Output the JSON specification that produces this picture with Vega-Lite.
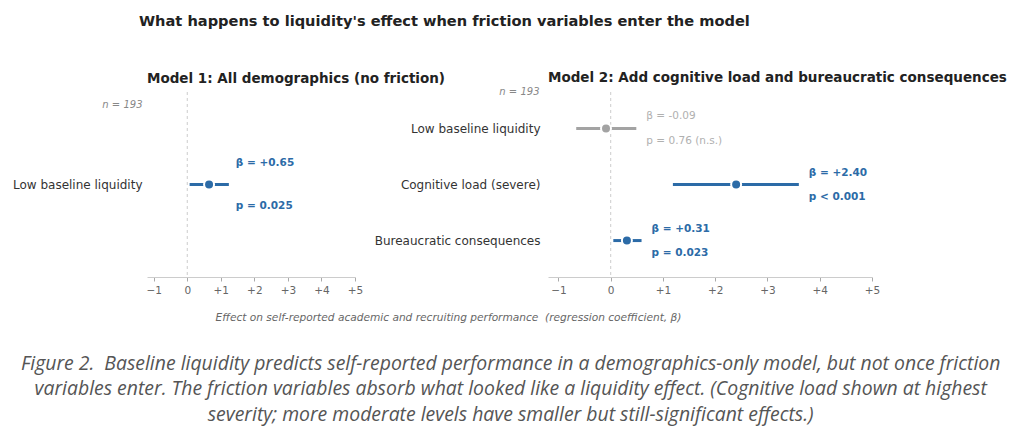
{
  "$schema": "https://vega.github.io/schema/vega-lite/v6.json",
  "background": "white",
  "padding": {"left": 12, "top": 13, "right": 12, "bottom": 10},
  "config": {
    "font": "DejaVu Sans",
    "view": {"stroke": null},
    "axis": {"grid": false},
    "axisX": {"labelOverlap": false, "labelFlush": false, "labelBound": false}
  },
  "datasets": {
    "m1": [
      {"term": "Low baseline liquidity", "beta": 0.65, "lo": 0.07, "hi": 1.24, "p_text": "p = 0.025", "significant": "yes"}
    ],
    "m2": [
      {"term": "Low baseline liquidity", "beta": -0.09, "lo": -0.66, "hi": 0.49, "p_text": "p = 0.76 (n.s.)", "significant": "no"},
      {"term": "Cognitive load (severe)", "beta": 2.40, "lo": 1.19, "hi": 3.60, "p_text": "p < 0.001", "significant": "yes"},
      {"term": "Bureaucratic consequences", "beta": 0.31, "lo": 0.05, "hi": 0.59, "p_text": "p = 0.023", "significant": "yes"}
    ],
    "zero": [{"x": 0}]
  },
  "title": {
    "text": [
      "Figure 2. \u00a0Baseline liquidity predicts self-reported performance in a demographics-only model, but not once friction",
      "variables enter. The friction variables absorb what looked like a liquidity effect. (Cognitive load shown at highest",
      "severity; more moderate levels have smaller but still-significant effects.)"
    ],
    "orient": "bottom",
    "anchor": "middle",
    "dx": 1,
    "font": "Open Sans",
    "fontStyle": "italic",
    "fontWeight": "normal",
    "fontSize": 19.4,
    "lineHeight": 25.5,
    "color": "#555555",
    "offset": 32
  },
  "vconcat": [
    {
      "title": {
        "text": "What happens to liquidity's effect when friction variables enter the model",
        "anchor": "start",
        "frame": "group",
        "dx": -8,
        "fontSize": 14.6,
        "fontWeight": "bold",
        "color": "#222222",
        "offset": 42
      },
      "bounds": "flush",
      "spacing": 193,
      "hconcat": [
        {
          "width": 208,
          "height": 185,
          "title": {"text": "Model 1: All demographics (no friction)", "anchor": "start", "frame": "group", "fontSize": 13.5, "fontWeight": "bold", "color": "#222222", "offset": 6},
          "layer": [
            {
              "data": {"name": "zero"},
              "mark": {"type": "rule", "color": "#cccccc", "strokeDash": [3, 3], "strokeWidth": 1},
              "encoding": {
                "x": {
                  "field": "x", "type": "quantitative",
                  "scale": {"domain": [-1.2, 5], "nice": false, "zero": false},
                  "axis": {
                    "values": [-1, 0, 1, 2, 3, 4, 5],
                    "tickCount": 10,
                    "labelExpr": "datum.value > 0 ? '+' + datum.value : (datum.value == 0 ? '0' : '\u2212' + abs(datum.value))",
                    "labelOverlap": false, "labelFlush": false,
                    "domainColor": "#cccccc", "tickColor": "#aaaaaa", "tickSize": 4,
                    "labelColor": "#666666", "labelFontSize": 10.5, "labelPadding": 4,
                    "title": "Effect on self-reported academic and recruiting performance \u00a0(regression coefficient, \u03b2)",
                    "titleFontStyle": "italic", "titleFontWeight": "normal", "titleFontSize": 10.6,
                    "titleColor": "#666666", "titleX": 301, "titleY": 40, "titleAlign": "center", "titleBaseline": "middle"
                  }
                }
              }
            },
            {
              "data": {"name": "m1"},
              "mark": {"type": "rule", "strokeWidth": 3},
              "encoding": {
                "x": {"field": "lo", "type": "quantitative", "scale": {"domain": [-1.2, 5], "nice": false, "zero": false}},
                "x2": {"field": "hi"},
                "y": {
                  "field": "term", "type": "nominal", "sort": null,
                  "scale": {"type": "point", "padding": 0.65},
                  "axis": {
                    "domain": false, "ticks": false, "labelFontSize": 12, "labelColor": "#333333", "labelPadding": 5,
                    "title": "n = 193", "titleAngle": 0, "titleAlign": "right", "titleBaseline": "middle",
                    "titleX": -5, "titleY": 12, "titleFontStyle": "italic", "titleFontWeight": "normal",
                    "titleFontSize": 10, "titleColor": "#888888"
                  }
                },
                "color": {"field": "significant", "type": "nominal", "scale": {"domain": ["yes", "no"], "range": ["#2c6ba7", "#a3a3a3"]}, "legend": null}
              }
            },
            {
              "data": {"name": "m1"},
              "mark": {"type": "circle", "size": 100, "opacity": 1, "stroke": "white", "strokeWidth": 2},
              "encoding": {
                "x": {"field": "beta", "type": "quantitative", "scale": {"domain": [-1.2, 5], "nice": false, "zero": false}},
                "y": {"field": "term", "type": "nominal", "sort": null, "scale": {"type": "point", "padding": 0.65}},
                "color": {"field": "significant", "type": "nominal", "scale": {"domain": ["yes", "no"], "range": ["#2c6ba7", "#a3a3a3"]}, "legend": null}
              }
            },
            {
              "data": {"name": "m1"},
              "transform": [{"calculate": "'\u03b2 = ' + (datum.beta > 0 ? '+' : '') + format(datum.beta, '.2f')", "as": "beta_text"}],
              "mark": {"type": "text", "align": "left", "baseline": "middle", "dx": 7, "dy": -22, "fontSize": 10.5, "fontWeight": "bold"},
              "encoding": {
                "x": {"field": "hi", "type": "quantitative", "scale": {"domain": [-1.2, 5], "nice": false, "zero": false}},
                "y": {"field": "term", "type": "nominal", "sort": null, "scale": {"type": "point", "padding": 0.65}},
                "text": {"field": "beta_text"},
                "color": {"field": "significant", "type": "nominal", "scale": {"domain": ["yes", "no"], "range": ["#2c6ba7", "#a3a3a3"]}, "legend": null}
              }
            },
            {
              "data": {"name": "m1"},
              "mark": {"type": "text", "align": "left", "baseline": "middle", "dx": 7, "dy": 21, "fontSize": 10.5, "fontWeight": "bold"},
              "encoding": {
                "x": {"field": "hi", "type": "quantitative", "scale": {"domain": [-1.2, 5], "nice": false, "zero": false}},
                "y": {"field": "term", "type": "nominal", "sort": null, "scale": {"type": "point", "padding": 0.65}},
                "text": {"field": "p_text"},
                "color": {"field": "significant", "type": "nominal", "scale": {"domain": ["yes", "no"], "range": ["#2c6ba7", "#a3a3a3"]}, "legend": null}
              }
            }
          ]
        },
        {
          "width": 324,
          "height": 185,
          "title": {"text": "Model 2: Add cognitive load and bureaucratic consequences", "anchor": "start", "frame": "group", "fontSize": 13.5, "fontWeight": "bold", "color": "#222222", "offset": 2},
          "layer": [
            {
              "data": {"name": "zero"},
              "mark": {"type": "rule", "color": "#cccccc", "strokeDash": [3, 3], "strokeWidth": 1},
              "encoding": {
                "x": {
                  "field": "x", "type": "quantitative",
                  "scale": {"domain": [-1.2, 5], "nice": false, "zero": false},
                  "axis": {
                    "values": [-1, 0, 1, 2, 3, 4, 5],
                    "tickCount": 10,
                    "labelExpr": "datum.value > 0 ? '+' + datum.value : (datum.value == 0 ? '0' : '\u2212' + abs(datum.value))",
                    "labelOverlap": false, "labelFlush": false,
                    "domainColor": "#cccccc", "tickColor": "#aaaaaa", "tickSize": 4,
                    "labelColor": "#666666", "labelFontSize": 10.5, "labelPadding": 4,
                    "title": ""
                  }
                }
              }
            },
            {
              "data": {"name": "m2"},
              "mark": {"type": "rule", "strokeWidth": 3},
              "encoding": {
                "x": {"field": "lo", "type": "quantitative", "scale": {"domain": [-1.2, 5], "nice": false, "zero": false}},
                "x2": {"field": "hi"},
                "y": {
                  "field": "term", "type": "nominal", "sort": null,
                  "scale": {"type": "point", "padding": 0.65},
                  "axis": {
                    "domain": false, "ticks": false, "labelFontSize": 12, "labelColor": "#333333", "labelPadding": 8,
                    "title": "n = 193", "titleAngle": 0, "titleAlign": "right", "titleBaseline": "middle",
                    "titleX": -9, "titleY": -1, "titleFontStyle": "italic", "titleFontWeight": "normal",
                    "titleFontSize": 10, "titleColor": "#888888"
                  }
                },
                "color": {"field": "significant", "type": "nominal", "scale": {"domain": ["yes", "no"], "range": ["#2c6ba7", "#a3a3a3"]}, "legend": null}
              }
            },
            {
              "data": {"name": "m2"},
              "mark": {"type": "circle", "size": 100, "opacity": 1, "stroke": "white", "strokeWidth": 2},
              "encoding": {
                "x": {"field": "beta", "type": "quantitative", "scale": {"domain": [-1.2, 5], "nice": false, "zero": false}},
                "y": {"field": "term", "type": "nominal", "sort": null, "scale": {"type": "point", "padding": 0.65}},
                "color": {"field": "significant", "type": "nominal", "scale": {"domain": ["yes", "no"], "range": ["#2c6ba7", "#a3a3a3"]}, "legend": null}
              }
            },
            {
              "data": {"name": "m2"},
              "transform": [
                {"filter": "datum.significant == 'yes'"},
                {"calculate": "'\u03b2 = ' + (datum.beta > 0 ? '+' : '') + format(datum.beta, '.2f')", "as": "beta_text"}
              ],
              "mark": {"type": "text", "align": "left", "baseline": "middle", "dx": 10, "dy": -12, "fontSize": 10.5, "fontWeight": "bold", "color": "#2c6ba7"},
              "encoding": {
                "x": {"field": "hi", "type": "quantitative", "scale": {"domain": [-1.2, 5], "nice": false, "zero": false}},
                "y": {"field": "term", "type": "nominal", "sort": null, "scale": {"type": "point", "padding": 0.65}},
                "text": {"field": "beta_text"}
              }
            },
            {
              "data": {"name": "m2"},
              "transform": [{"filter": "datum.significant == 'yes'"}],
              "mark": {"type": "text", "align": "left", "baseline": "middle", "dx": 10, "dy": 12, "fontSize": 10.5, "fontWeight": "bold", "color": "#2c6ba7"},
              "encoding": {
                "x": {"field": "hi", "type": "quantitative", "scale": {"domain": [-1.2, 5], "nice": false, "zero": false}},
                "y": {"field": "term", "type": "nominal", "sort": null, "scale": {"type": "point", "padding": 0.65}},
                "text": {"field": "p_text"}
              }
            },
            {
              "data": {"name": "m2"},
              "transform": [
                {"filter": "datum.significant == 'no'"},
                {"calculate": "'\u03b2 = ' + replace(format(datum.beta, '.2f'), '\u2212', '-')", "as": "beta_text"}
              ],
              "mark": {"type": "text", "align": "left", "baseline": "middle", "dx": 10, "dy": -12, "fontSize": 10.5, "fontWeight": "normal", "color": "#b0b0b0"},
              "encoding": {
                "x": {"field": "hi", "type": "quantitative", "scale": {"domain": [-1.2, 5], "nice": false, "zero": false}},
                "y": {"field": "term", "type": "nominal", "sort": null, "scale": {"type": "point", "padding": 0.65}},
                "text": {"field": "beta_text"}
              }
            },
            {
              "data": {"name": "m2"},
              "transform": [{"filter": "datum.significant == 'no'"}],
              "mark": {"type": "text", "align": "left", "baseline": "middle", "dx": 10, "dy": 13, "fontSize": 10.5, "fontWeight": "normal", "color": "#b0b0b0"},
              "encoding": {
                "x": {"field": "hi", "type": "quantitative", "scale": {"domain": [-1.2, 5], "nice": false, "zero": false}},
                "y": {"field": "term", "type": "nominal", "sort": null, "scale": {"type": "point", "padding": 0.65}},
                "text": {"field": "p_text"}
              }
            }
          ]
        }
      ]
    }
  ]
}
